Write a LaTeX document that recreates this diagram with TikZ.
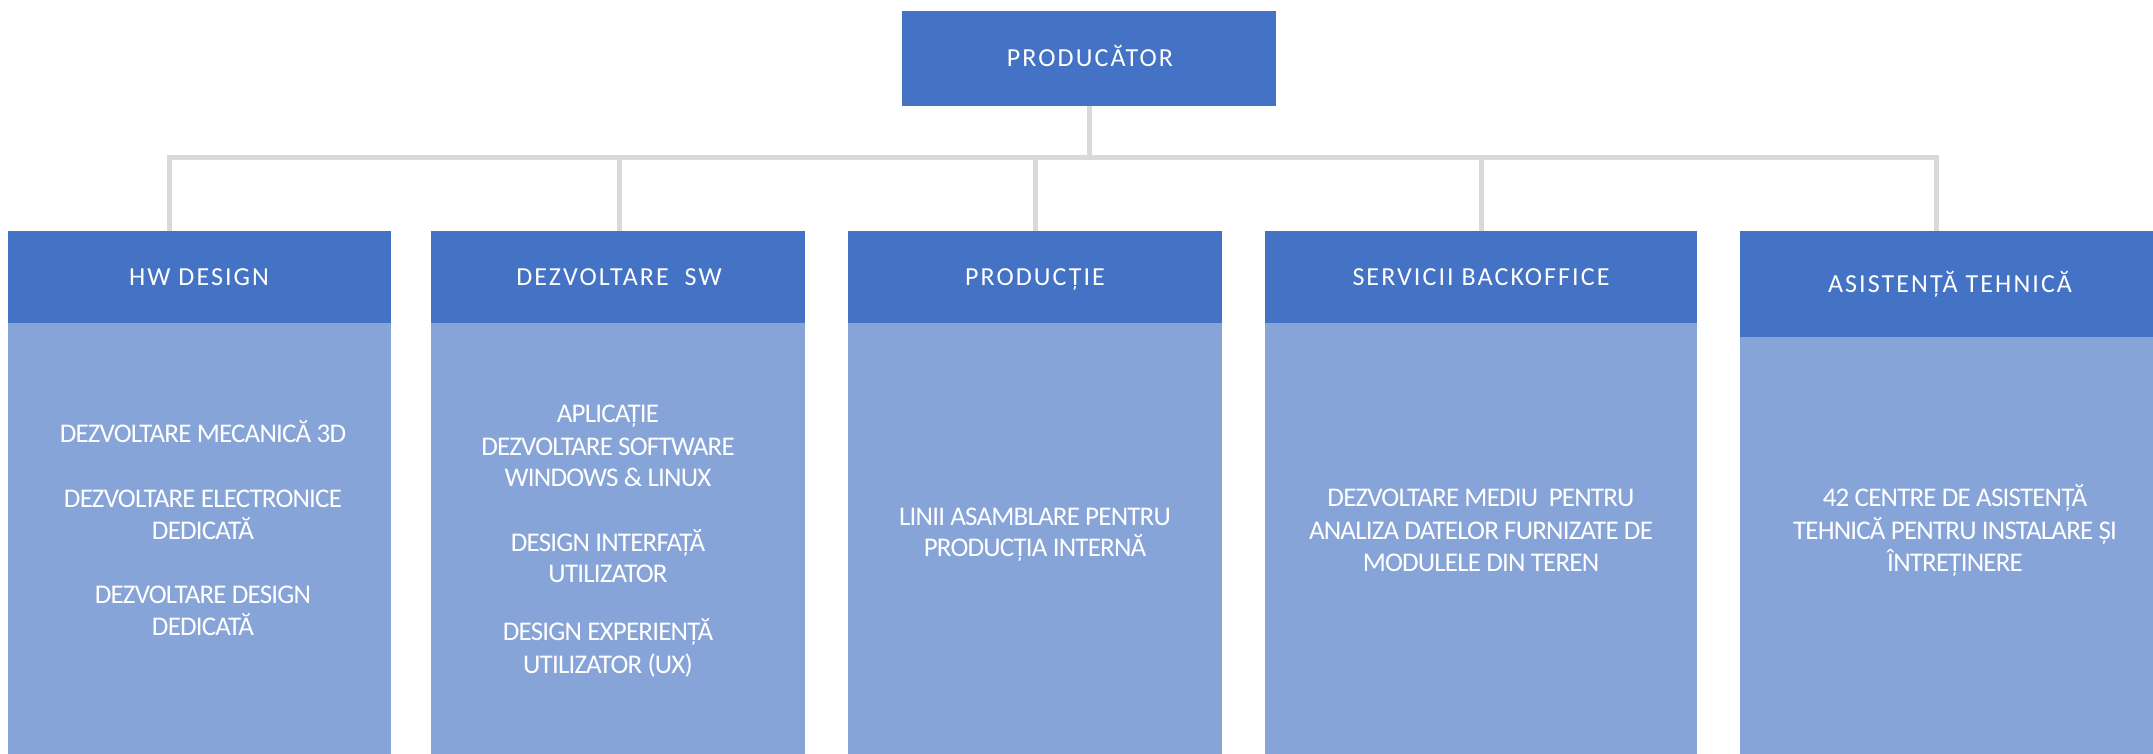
\documentclass[tikz,border=0pt]{standalone}
\usepackage{fontspec}
\newfontfamily\bodyfont[LetterSpace=-3]{Carlito}
\newfontfamily\headfont[LetterSpace=8]{Carlito}
\definecolor{hdrblue}{HTML}{4472C4}
\definecolor{bodyblue}{HTML}{86A4D8}
\definecolor{linegray}{HTML}{D9D9D9}
\begin{document}
\begin{tikzpicture}[x=1pt,y=-1pt,
  hdr/.style={fill=hdrblue, draw=none, inner sep=0pt, outer sep=0pt, rectangle},
  bodybox/.style={fill=bodyblue, draw=none, inner sep=0pt, outer sep=0pt, rectangle},
  conn/.style={draw=linegray, line width=5pt},
  htxt/.style={text=white, inner sep=0pt, anchor=base, font=\headfont\fontsize{26}{30}\selectfont},
  btxt/.style={text=white, inner sep=0pt, anchor=base, font=\bodyfont\fontsize{27}{32}\selectfont}]
\useasboundingbox (0,0) rectangle (2153,754);
\fill[white] (0,0) rectangle (2153,754);
% top
\node[hdr, minimum width=374pt, minimum height=95pt] (top) at (1089,58.5) {};
% headers
\node[hdr, minimum width=383pt, minimum height=92pt] (h1) at (199.5,277) {};
\node[hdr, minimum width=374pt, minimum height=92pt] (h2) at (618,277) {};
\node[hdr, minimum width=374pt, minimum height=92pt] (h3) at (1035,277) {};
\node[hdr, minimum width=432pt, minimum height=92pt] (h4) at (1481,277) {};
\node[hdr, minimum width=413pt, minimum height=106pt] (h5) at (1946.5,284) {};
% bodies
\node[bodybox, minimum width=383pt, minimum height=431pt] (b1) at (199.5,538.5) {};
\node[bodybox, minimum width=374pt, minimum height=431pt] (b2) at (618,538.5) {};
\node[bodybox, minimum width=374pt, minimum height=431pt] (b3) at (1035,538.5) {};
\node[bodybox, minimum width=432pt, minimum height=431pt] (b4) at (1481,538.5) {};
\node[bodybox, minimum width=413pt, minimum height=417pt] (b5) at (1946.5,545.5) {};
% connectors
\coordinate (bus) at (1089,158);
\coordinate (k1) at (169,231);
\coordinate (k2) at (619,231);
\coordinate (k5) at (1936,231);
\draw[conn] (top.south) -- (top.south |- bus);
\draw[conn] (top.south |- bus) -| (k1);
\draw[conn] (top.south |- bus) -| (k2);
\draw[conn] (top.south |- bus) -| (h3.north);
\draw[conn] (top.south |- bus) -| (h4.north);
\draw[conn] (top.south |- bus) -| (k5);
\draw[conn] ([xshift=-2.5pt]k1 |- bus) -- ([xshift=2.5pt]k5 |- bus);
% header texts
\node[htxt] (tt) at (1090,66.5) {PRODUCĂTOR};
\node[htxt] (ht1) at (199,285.5) {HW DESIGN};
\node[htxt] (ht2) at (619,285.5) {DEZVOLTARE \ SW};
\node[htxt] (ht3) at (1035,285.5) {PRODUCȚIE};
\node[htxt] (ht4) at (1481,285.5) {SERVICII BACKOFFICE};
\node[htxt] (ht5) at (1950,292.5) {ASISTENȚĂ TEHNICĂ};
% body texts box 1
\node[btxt] (a1) at (203,442) {DEZVOLTARE MECANICĂ 3D};
\node[btxt] (a2) at (203,507) {DEZVOLTARE ELECTRONICE};
\node[btxt] (a3) at (203,539) {DEDICATĂ};
\node[btxt] (a4) at (203,603) {DEZVOLTARE DESIGN};
\node[btxt] (a5) at (203,635) {DEDICATĂ};
% box 2
\node[btxt] (c1) at (608,422) {APLICAȚIE};
\node[btxt] (c2) at (608,455) {DEZVOLTARE SOFTWARE};
\node[btxt] (c3) at (608,486) {WINDOWS \& LINUX};
\node[btxt] (c4) at (608,551) {DESIGN INTERFAȚĂ};
\node[btxt] (c5) at (608,582) {UTILIZATOR};
\node[btxt] (c6) at (608,640) {DESIGN EXPERIENȚĂ};
\node[btxt] (c7) at (608,673) {UTILIZATOR (UX)};
% box 3
\node[btxt] (d1) at (1035,525) {LINII ASAMBLARE PENTRU};
\node[btxt] (d2) at (1035,556) {PRODUCȚIA INTERNĂ};
% box 4
\node[btxt] (e1) at (1481,506) {DEZVOLTARE MEDIU \ PENTRU};
\node[btxt] (e2) at (1481,539) {ANALIZA DATELOR FURNIZATE DE};
\node[btxt] (e3) at (1481,571) {MODULELE DIN TEREN};
% box 5
\node[btxt] (f1) at (1955,506) {42 CENTRE DE ASISTENȚĂ};
\node[btxt] (f2) at (1955,539) {TEHNICĂ PENTRU INSTALARE ȘI};
\node[btxt] (f3) at (1955,571) {ÎNTREȚINERE};
\end{tikzpicture}
\end{document}
